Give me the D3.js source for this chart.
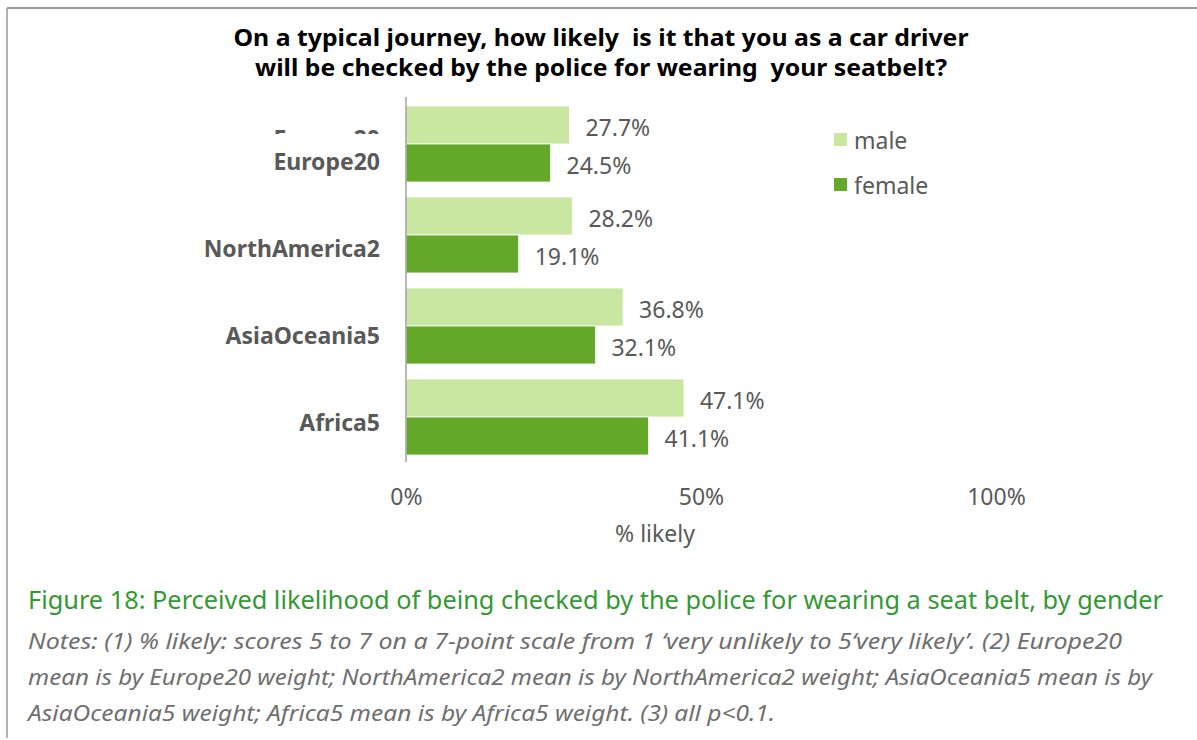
<!DOCTYPE html>
<html>
<head>
<meta charset="utf-8">
<style>
  body { margin: 0; background: #fff; }
  svg { display: block; }
  .title { font-family: Tahoma, "Noto Sans", sans-serif; font-weight: bold; fill: #000; font-size: 24px; white-space: pre; }
  .cat { font-family: Tahoma, "Noto Sans", sans-serif; font-weight: bold; fill: #595959; font-size: 23px; }
  .val, .legend, .tick text, .axis-title { font-family: Tahoma, "Noto Sans", sans-serif; fill: #595959; font-size: 23px; }
  .caption { font-family: Tahoma, "Noto Sans", sans-serif; fill: #339933; font-size: 25px; }
  .notes { font-family: Tahoma, "Noto Sans", sans-serif; font-style: italic; fill: #6f6f6f; font-size: 22px; }
</style>
</head>
<body>
<svg width="1197" height="740"></svg>
<script src="https://cdnjs.cloudflare.com/ajax/libs/d3/7.8.5/d3.min.js"></script>
<script>

// chart values
var categories = ["Europe20", "NorthAmerica2", "AsiaOceania5", "Africa5"];
var series = ["male", "female"];
var maleValues = [27.7, 28.2, 36.8, 47.1];
var femaleValues = [24.5, 19.1, 32.1, 41.1];
var xTicks = [0, 50, 100];

var titleLines = [
  "On a typical journey, how likely  is it that you as a car driver",
  "will be checked by the police for wearing  your seatbelt?"
];
var captionText = "Figure 18: Perceived likelihood of being checked by the police for wearing a seat belt, by gender";
var notesLines = [
  "Notes: (1) % likely: scores 5 to 7 on a 7-point scale from 1 \u2018very unlikely to 5\u2018very likely\u2019. (2) Europe20",
  "mean is by Europe20 weight; NorthAmerica2 mean is by NorthAmerica2 weight; AsiaOceania5 mean is by",
  "AsiaOceania5 weight; Africa5 mean is by Africa5 weight. (3) all p<0.1."
];

var colours = { male: "#c9e7a0", female: "#63a829" };

var svg = d3.select("svg");

// frame lines (top and left)
svg.append("line").attr("x1", 7).attr("y1", 8).attr("x2", 1197).attr("y2", 8)
    .style("stroke", "#9a9a9a").style("stroke-width", 2);
svg.append("line").attr("x1", 7).attr("y1", 8).attr("x2", 7).attr("y2", 738)
    .style("stroke", "#9a9a9a").style("stroke-width", 1.5);

// title
var titleWidths = [735, 692];
svg.selectAll(".title")
    .data(titleLines)
    .enter().append("text")
    .attr("class", "title")
    .attr("x", 601)
    .attr("y", function(d, i) { return 46 + i * 30; })
    .attr("text-anchor", "middle")
    .attr("textLength", function(d, i) { return titleWidths[i]; })
    .attr("lengthAdjust", "spacingAndGlyphs")
    .text(function(d) { return d; });

// scales
var x = d3.scaleLinear().domain([0, 100]).range([406, 996]);
var y = d3.scaleBand().domain(categories).range([106, 455]).paddingInner(15 / 91).paddingOuter(0);
var ySub = d3.scaleBand().domain(series).range([0, y.bandwidth()]);
var labelY = d3.scalePoint().domain(categories).range([161, 422]);

var rows = categories.map(function(c, i) {
  return { category: c, values: [
    { key: "male", value: maleValues[i] },
    { key: "female", value: femaleValues[i] }
  ]};
});

// bars
var groups = svg.selectAll(".group")
    .data(rows)
    .enter().append("g")
    .attr("class", "group")
    .attr("transform", function(d) { return "translate(0," + y(d.category) + ")"; });

groups.selectAll("rect")
    .data(function(d) { return d.values; })
    .enter().append("rect")
    .attr("x", x(0))
    .attr("y", function(d) { return ySub(d.key); })
    .attr("width", function(d) { return x(d.value) - x(0); })
    .attr("height", ySub.bandwidth())
    .style("fill", function(d) { return colours[d.key]; })
    .style("stroke", "#ffffff")
    .style("stroke-width", 0.8);

groups.selectAll(".val")
    .data(function(d) { return d.values; })
    .enter().append("text")
    .attr("class", "val")
    .attr("x", function(d) { return x(d.value) + 16; })
    .attr("y", function(d) { return ySub(d.key) + ySub.bandwidth() / 2 + 2; })
    .attr("dominant-baseline", "central")
    .text(function(d) { return d.value.toFixed(1) + "%"; });

// vertical axis line
svg.append("line")
    .attr("x1", x(0)).attr("x2", x(0))
    .attr("y1", 97).attr("y2", 462)
    .style("stroke", "#a0a0a0").style("stroke-width", 1.5);

// clipped ghost of the first category label (as in the original export)
svg.append("clipPath").attr("id", "ghostclip")
  .append("rect").attr("x", 200).attr("y", 100).attr("width", 200).attr("height", 34);
svg.append("text")
    .attr("class", "cat")
    .attr("clip-path", "url(#ghostclip)")
    .attr("x", 380)
    .attr("y", 147)
    .attr("text-anchor", "end")
    .text(categories[0]);

// category labels
svg.selectAll(".catlabel")
    .data(categories)
    .enter().append("text")
    .attr("class", "cat catlabel")
    .attr("x", 380)
    .attr("y", function(d) { return labelY(d); })
    .attr("text-anchor", "end")
    .attr("dominant-baseline", "central")
    .text(function(d) { return d; });

// x axis labels
var xAxis = d3.axisBottom(x)
    .tickValues(xTicks)
    .tickSize(0)
    .tickPadding(0)
    .tickFormat(function(d) { return d + "%"; });

var axisG = svg.append("g")
    .attr("class", "xaxis")
    .attr("transform", "translate(0,489)")
    .call(xAxis);
axisG.select(".domain").remove();
axisG.selectAll("text").attr("class", null).style("font-family", "Tahoma, 'Noto Sans', sans-serif")
    .style("font-size", "23px").style("fill", "#595959");

svg.append("text")
    .attr("class", "axis-title")
    .attr("x", 655)
    .attr("y", 542)
    .attr("text-anchor", "middle")
    .text("% likely");

// legend
var legend = svg.selectAll(".legend-item")
    .data(series)
    .enter().append("g")
    .attr("class", "legend-item")
    .attr("transform", function(d, i) { return "translate(834," + (133 + i * 45) + ")"; });

legend.append("rect")
    .attr("width", 13)
    .attr("height", 13)
    .style("fill", function(d) { return colours[d]; });

legend.append("text")
    .attr("class", "legend")
    .attr("x", 20)
    .attr("y", 7)
    .attr("dominant-baseline", "central")
    .text(function(d) { return d; });

// caption and notes
svg.append("text")
    .attr("class", "caption")
    .attr("x", 28)
    .attr("y", 609)
    .attr("textLength", 1135)
    .attr("lengthAdjust", "spacingAndGlyphs")
    .text(captionText);

var notesWidths = [1094, 1124, 747];
svg.selectAll(".notes")
    .data(notesLines)
    .enter().append("text")
    .attr("class", "notes")
    .attr("x", 28)
    .attr("y", function(d, i) { return 649 + i * 36; })
    .attr("textLength", function(d, i) { return notesWidths[i]; })
    .attr("lengthAdjust", "spacingAndGlyphs")
    .text(function(d) { return d; });

</script>
</body>
</html>
